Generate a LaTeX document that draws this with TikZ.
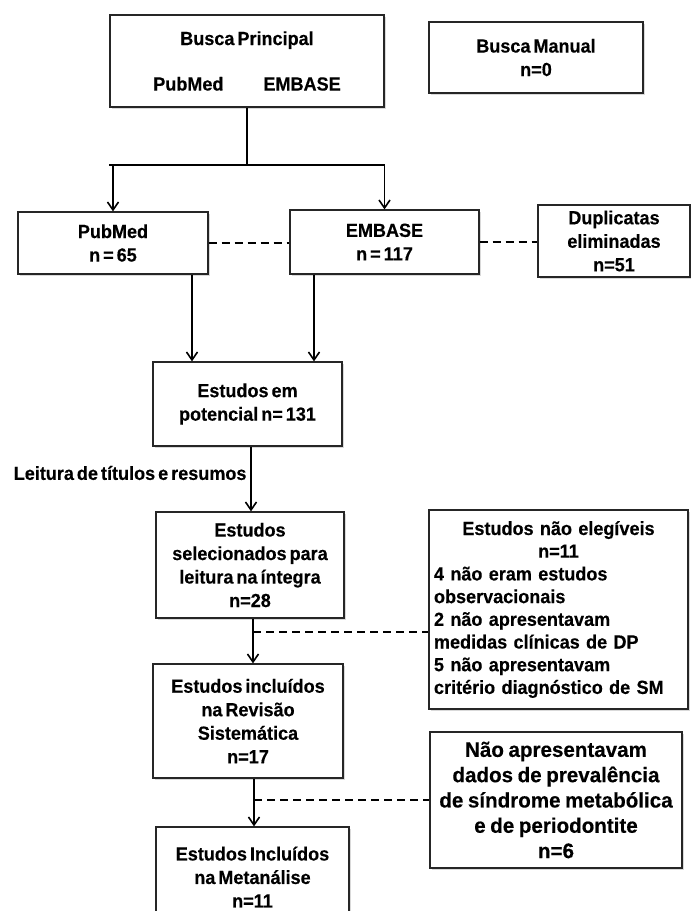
\documentclass[tikz,border=0pt]{standalone}
\usepackage{fontspec}
\setmainfont[FakeStretch=0.95, WordSpace=0.6, BoldFeatures={FakeBold=0.3}]{Liberation Sans}
\newfontfamily\widefont[FakeStretch=0.98, WordSpace=0.8, BoldFeatures={FakeBold=0.3}]{Liberation Sans}
\usetikzlibrary{arrows.meta,shadows}

\begin{document}
\begin{tikzpicture}[
    x=1pt, y=-1pt,
    font=\bfseries\fontsize{19}{23.5}\selectfont,
    box/.style={rectangle, draw=black!85, line width=1.2pt, fill=white, align=center, inner sep=2pt, drop shadow={shadow xshift=1.5pt, shadow yshift=-1.5pt, opacity=0.3}},
    arrow/.style={-{Straight Barb[length=8pt,width=11pt]}, line width=1.6pt},
    link/.style={line width=1.6pt},
    dashline/.style={line width=2.2pt, dash pattern=on 8pt off 5pt}
]
\useasboundingbox (0,0) rectangle (691,911);
\clip (0,0) rectangle (691,911);

% Search
\node[box, minimum width=274, minimum height=92] (principal) at (247,61) {Busca Principal\\[22pt]PubMed\hspace{40pt}EMBASE};
\node[box, minimum width=214, minimum height=71] (manual) at (536,57.5) {Busca Manual\\n=0};

% Databases
\node[box, minimum width=190, minimum height=62] (pubmed) at (113,243) {PubMed\\n = 65};
\node[box, minimum width=189, minimum height=64] (embase) at (384.5,242) {EMBASE\\n = 117};
\node[box, minimum width=152, minimum height=72] (duplicatas) at (614,241) {Duplicatas\\eliminadas\\n=51};

% Selection steps
\node[box, minimum width=189, minimum height=84] (potencial) at (247.5,404) {Estudos em\\potencial n= 131};
\node[box, minimum width=188, minimum height=106] (selecionados) at (250,565) {Estudos\\selecionados para\\leitura na íntegra\\n=28};
\node[box, minimum width=190, minimum height=114] (revisao) at (248,721) {Estudos incluídos\\na Revisão\\Sistemática\\n=17};
\node[box, minimum width=193, minimum height=100] (metanalise) at (252.5,877) {Estudos Incluídos\\na Metanálise\\n=11};

% Exclusions
\node[box, minimum width=259, minimum height=199, text width=249pt, inner sep=5pt, align=left, font=\bfseries\fontsize{19}{22.7}\selectfont] (naoelegiveis) at (558.5,609.5) {{\centering Estudos não elegíveis\\n=11\par}4 não eram estudos\\observacionais\\2 não apresentavam\\medidas clínicas de DP\\5 não apresentavam\\critério diagnóstico de SM};
\node[box, minimum width=252, minimum height=136, font=\widefont\bfseries\fontsize{21}{25.3}\selectfont] (naoapresentavam) at (556,800) {Não apresentavam\\dados de prevalência\\de síndrome metabólica\\e de periodontite\\n=6};

% Split of the main search
\coordinate (split) at (247,165);
\draw[link] (principal.south) -- (split);
\draw[link] (split -| principal.west) -- (split -| embase);
\draw[arrow] (split -| pubmed) -- (pubmed.north);
\draw[arrow] (split -| embase) -- (embase.north);

% Duplicates
\draw[dashline] (pubmed.east) -- (pubmed.east -| embase.west);
\draw[dashline] (embase.east) -- (embase.east -| duplicatas.west);

% Merge
\coordinate (pmout) at ([xshift=79pt]pubmed.south);
\coordinate (emout) at ([xshift=-70.5pt]embase.south);
\draw[arrow] (pmout) -- (pmout |- potencial.north);
\draw[arrow] (emout) -- (emout |- potencial.north);

% Screening
\coordinate (potout) at ([xshift=3.5pt]potencial.south);
\draw[arrow] (potout) -- (potout |- selecionados.north);
\node[anchor=east] (leitura) at (250,473) {Leitura de títulos e resumos};

\coordinate (selout) at ([xshift=3pt]selecionados.south);
\coordinate (cut1) at (253,632);
\draw[arrow] (selout) -- (selout |- revisao.north);
\draw[dashline] (cut1) -- (cut1 -| naoelegiveis.west);

\coordinate (revout) at ([xshift=6pt]revisao.south);
\coordinate (cut2) at (254,800);
\draw[arrow] (revout) -- (revout |- metanalise.north);
\draw[dashline] (cut2) -- (cut2 -| naoapresentavam.west);

\end{tikzpicture}
\end{document}
